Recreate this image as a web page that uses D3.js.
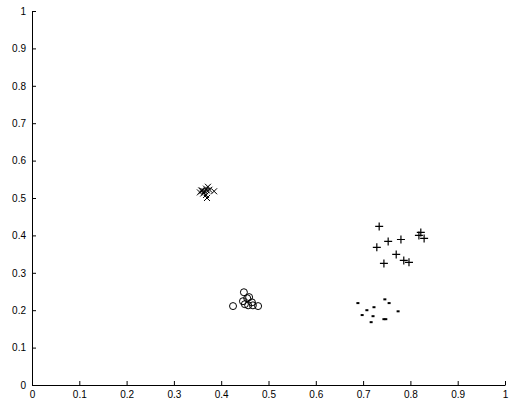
<!DOCTYPE html>
<html>
<head>
    <script src="https://d3js.org/d3.v7.min.js"></script>
    <style>
        body { margin: 0; background: #fff; }
        text { font-family: "Liberation Sans", Arial, sans-serif; font-size: 10px; }
    </style>
</head>
<body>
    <svg width="510" height="404"></svg>
    <script>
        // cluster 1: 'x' markers
        const xCross = [0.355, 0.360, 0.365, 0.368, 0.370, 0.372, 0.375, 0.385, 0.370, 0.368, 0.362, 0.358];
        const yCross = [0.515, 0.520, 0.518, 0.525, 0.520, 0.530, 0.522, 0.518, 0.500, 0.508, 0.512, 0.520];
        // cluster 2: 'o' markers
        const xCirc = [0.425, 0.448, 0.446, 0.455, 0.459, 0.465, 0.457, 0.467, 0.478, 0.450];
        const yCirc = [0.211, 0.248, 0.224, 0.232, 0.235, 0.221, 0.213, 0.213, 0.211, 0.216];
        // cluster 3: '+' markers
        const xPlus = [0.734, 0.822, 0.829, 0.818, 0.780, 0.753, 0.729, 0.770, 0.744, 0.786, 0.797];
        const yPlus = [0.424, 0.408, 0.392, 0.400, 0.389, 0.384, 0.368, 0.349, 0.325, 0.333, 0.328];
        // cluster 4: '.' markers
        const xDot = [0.689, 0.746, 0.755, 0.723, 0.708, 0.774, 0.698, 0.721, 0.717, 0.744, 0.748];
        const yDot = [0.219, 0.229, 0.219, 0.208, 0.200, 0.197, 0.187, 0.184, 0.168, 0.176, 0.176];

        const ticks = [0, 0.1, 0.2, 0.3, 0.4, 0.5, 0.6, 0.7, 0.8, 0.9, 1];

        const svg = d3.select("svg");
        const x = d3.scaleLinear().domain([0, 1]).range([32, 505]);
        const y = d3.scaleLinear().domain([0, 1]).range([385, 11]);

        const fmt = d => d === 0 ? "0" : d === 1 ? "1" : d3.format(".1f")(d);

        svg.append("g")
            .attr("transform", "translate(0," + y(0) + ")")
            .call(d3.axisBottom(x).tickValues(ticks).tickFormat(fmt).tickSizeInner(-4).tickSizeOuter(0).tickPadding(6));
        svg.append("g")
            .attr("transform", "translate(" + x(0) + ",0)")
            .call(d3.axisLeft(y).tickValues(ticks).tickFormat(fmt).tickSizeInner(-4).tickSizeOuter(0).tickPadding(6));
        svg.selectAll(".domain").attr("stroke", "#000");
        svg.selectAll(".tick line").attr("stroke", "#000");
        svg.selectAll(".tick text").attr("fill", "#000").style("font-size", "10px");

        const pts = (xs, ys) => xs.map((v, i) => [v, ys[i]]);

        // x markers
        const s = 3;
        svg.append("g").selectAll("path")
            .data(pts(xCross, yCross)).enter().append("path")
            .attr("d", d => {
                const cx = x(d[0]), cy = y(d[1]);
                return `M${cx - s},${cy - s}L${cx + s},${cy + s}M${cx - s},${cy + s}L${cx + s},${cy - s}`;
            })
            .attr("stroke", "#000").attr("stroke-width", 1);

        // o markers
        svg.append("g").selectAll("circle")
            .data(pts(xCirc, yCirc)).enter().append("circle")
            .attr("cx", d => x(d[0])).attr("cy", d => y(d[1]))
            .attr("r", 3.5).attr("fill", "none").attr("stroke", "#000").attr("stroke-width", 1);

        // + markers
        const p = 4;
        svg.append("g").selectAll("path")
            .data(pts(xPlus, yPlus)).enter().append("path")
            .attr("d", d => {
                const cx = x(d[0]), cy = y(d[1]);
                return `M${cx - p},${cy}L${cx + p},${cy}M${cx},${cy - p}L${cx},${cy + p}`;
            })
            .attr("stroke", "#000").attr("stroke-width", 1.2);

        // . markers
        svg.append("g").selectAll("rect")
            .data(pts(xDot, yDot)).enter().append("rect")
            .attr("x", d => x(d[0]) - 1.5).attr("y", d => y(d[1]) - 1)
            .attr("width", 3).attr("height", 2).attr("fill", "#000");
    </script>
</body>
</html>
